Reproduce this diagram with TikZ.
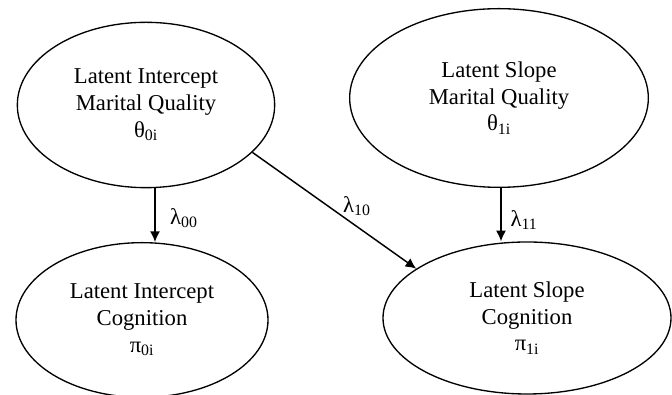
\documentclass[tikz,border=0pt]{standalone}
\usepackage{fontspec}
\setmainfont{Liberation Serif}
\usetikzlibrary{shapes.geometric,arrows.meta}

\begin{document}
\begin{tikzpicture}[x=0.75pt,y=0.75pt,
    latent/.style={ellipse,draw,line width=1pt,align=center,inner sep=0pt,
        font=\fontsize{17}{20}\selectfont},
    path/.style={-{Latex[length=8pt,width=7.5pt]},line width=1.1pt},
    coef/.style={font=\fontsize{17}{20}\selectfont}]

\useasboundingbox (0,0) rectangle (672,395);

% latent growth factors
\node (mqInt) at (146, 290) [latent,minimum width=193pt,minimum height=124pt]
    {Latent Intercept\\Marital Quality\\θ\textsubscript{0i}};
\node (mqSlope) at (499, 297) [latent,minimum width=224pt,minimum height=134pt]
    {Latent Slope\\Marital Quality\\θ\textsubscript{1i}};

\node (cogInt) at (142, 75) [latent,minimum width=189pt,minimum height=116pt]
    {Latent Intercept\\Cognition\\π\textsubscript{0i}};
\node (cogSlope) at (527, 77) [latent,minimum width=216pt,minimum height=114pt]
    {Latent Slope\\Cognition\\π\textsubscript{1i}};

% paths
\draw [path] ([xshift=6.75pt]mqInt.south) -- ([xshift=9.75pt]cogInt.north);
\draw [path] (mqInt.-24) -- (cogSlope.156);
\draw [path] ([xshift=1.5pt]mqSlope.south) -- ([xshift=-19.5pt]cogSlope.north);

\node at (184, 177) [coef] {λ\textsubscript{00}};
\node at (357, 189) [coef] {λ\textsubscript{10}};
\node at (524, 175) [coef] {λ\textsubscript{11}};

\end{tikzpicture}
\end{document}
